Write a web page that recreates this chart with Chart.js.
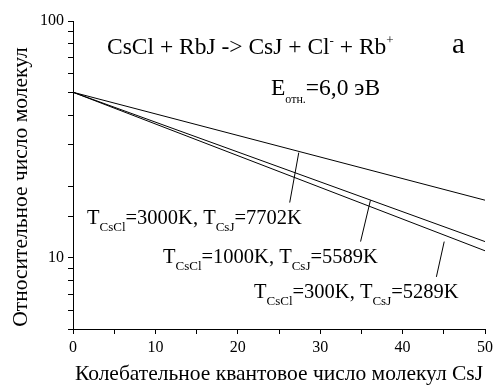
<!DOCTYPE html>
<html>
<head>
<meta charset="utf-8">
<script src="https://cdn.jsdelivr.net/npm/chart.js@4/dist/chart.umd.min.js"></script>
<style>
  html, body { margin: 0; padding: 0; background: #fff; }
  #wrap { width: 497px; height: 387px; position: relative; }
  .probe { position: absolute; left: -1000px; top: 0; font-family: "Liberation Serif", "Times New Roman", Times, serif; }
</style>
</head>
<body>
<div id="wrap"><canvas id="c" width="497" height="387"></canvas></div>
<div class="probe">Относительное CsCl 0123456789</div>
<script>
// Vibrational quantum number of CsJ
const quantumNumbers = [0, 50];
// Relative number of molecules for each CsCl / CsJ temperature pair
const seriesT3000 = [50, 17.5];
const seriesT1000 = [50, 11.7];
const seriesT300  = [50, 10.7];

const xTickLabels = [0, 10, 20, 30, 40, 50];
const yTickLabels = [10, 100];

// Leader lines from the curve labels to their curves (data coordinates)
const leaders = [
  [[27.4, 27.8], [26.3, 17.1]],
  [[36.1, 17.5], [34.9, 11.7]],
  [[45.05, 11.7], [44.1, 8.3]]
];

const SERIF = '"Liberation Serif", "Times New Roman", Times, serif';

function toPoints(ys) {
  return quantumNumbers.map((x, i) => ({ x: x, y: ys[i] }));
}

// Draws a run of text pieces; each piece may be shrunk and shifted (sub/superscript)
function drawRich(ctx, x, y, parts) {
  let cx = x;
  parts.forEach(p => {
    ctx.font = p.size + 'px ' + SERIF;
    ctx.fillText(p.t, cx, y + (p.dy || 0));
    cx += ctx.measureText(p.t).width;
  });
}

const annotations = {
  id: 'annotations',
  afterDatasetsDraw(chart) {
    const ctx = chart.ctx;
    const xs = chart.scales.x, ys = chart.scales.y;
    ctx.save();
    ctx.strokeStyle = '#000';
    ctx.lineWidth = 1;
    leaders.forEach(([a, b]) => {
      ctx.beginPath();
      ctx.moveTo(xs.getPixelForValue(a[0]), ys.getPixelForValue(a[1]));
      ctx.lineTo(xs.getPixelForValue(b[0]), ys.getPixelForValue(b[1]));
      ctx.stroke();
    });

    ctx.fillStyle = '#000';
    ctx.textBaseline = 'alphabetic';
    ctx.textAlign = 'left';

    const M = 23.5, SUP = 13;
    drawRich(ctx, 107, 54, [
      { t: 'CsCl + RbJ -> CsJ + Cl', size: M },
      { t: '-', size: SUP, dy: -9 },
      { t: ' + Rb', size: M },
      { t: '+', size: SUP, dy: -10 }
    ]);
    drawRich(ctx, 452, 53, [{ t: 'a', size: 29 }]);
    drawRich(ctx, 271, 95, [
      { t: 'E', size: M },
      { t: 'отн.', size: 12, dy: 8 },
      { t: '=6,0 эВ', size: M }
    ]);

    const L = 20.5, SUB = 13;
    function tLabel(x, y, a, b) {
      drawRich(ctx, x, y, [
        { t: 'T', size: L },
        { t: 'CsCl', size: SUB, dy: 7 },
        { t: '=' + a + ', T', size: L },
        { t: 'CsJ', size: SUB, dy: 7 },
        { t: '=' + b, size: L }
      ]);
    }
    tLabel(87, 224, '3000K', '7702K');
    tLabel(163, 263, '1000K', '5589K');
    tLabel(254, 298, '300K', '5289K');

    // Y axis title
    ctx.save();
    ctx.translate(21, 187);
    ctx.rotate(-Math.PI / 2);
    ctx.textAlign = 'center';
    ctx.textBaseline = 'middle';
    ctx.font = '21.5px ' + SERIF;
    ctx.fillText('Относительное число молекул', 0, 0);
    ctx.restore();

    ctx.restore();
  }
};

const lineStyle = {
  borderColor: '#000',
  borderWidth: 1,
  pointRadius: 0,
  fill: false,
  tension: 0
};

function build() {
  new Chart(document.getElementById('c'), {
    type: 'line',
    data: {
      datasets: [
        Object.assign({ label: 'T(CsCl)=3000K', data: toPoints(seriesT3000) }, lineStyle),
        Object.assign({ label: 'T(CsCl)=1000K', data: toPoints(seriesT1000) }, lineStyle),
        Object.assign({ label: 'T(CsCl)=300K',  data: toPoints(seriesT300) }, lineStyle)
      ]
    },
    options: {
      responsive: false,
      animation: false,
      devicePixelRatio: 1,
      layout: { padding: { top: 21, right: 10, left: 0, bottom: 0 } },
      plugins: { legend: { display: false }, tooltip: { enabled: false } },
      scales: {
        x: {
          type: 'linear',
          min: 0, max: 50,
          afterFit(s) { s.height = 58; },
          border: { display: true, color: '#000', width: 1 },
          grid: { drawOnChartArea: false, drawTicks: true, tickLength: 5, color: '#000' },
          ticks: {
            stepSize: 5,
            padding: 4,
            color: '#000',
            font: { family: SERIF, size: 16 },
            maxRotation: 0,
            autoSkip: false,
            callback: v => (xTickLabels.includes(v) ? String(v) : '')
          },
          title: {
            display: true,
            text: 'Колебательное квантовое число молекул CsJ',
            color: '#000',
            font: { family: SERIF, size: 21.5 },
            padding: { top: 0, bottom: 0 }
          }
        },
        y: {
          type: 'logarithmic',
          min: 5, max: 100,
          afterFit(s) { s.width = 73; },
          border: { display: true, color: '#000', width: 1 },
          grid: { drawOnChartArea: false, drawTicks: true, tickLength: 5, color: '#000' },
          ticks: {
            padding: 4,
            color: '#000',
            font: { family: SERIF, size: 16 },
            autoSkip: false,
            callback: v => (yTickLabels.includes(v) ? String(v) : '')
          }
        }
      }
    },
    plugins: [annotations]
  });
}

if (document.fonts && document.fonts.load) {
  Promise.all([
    document.fonts.load('20px "Liberation Serif"'),
    document.fonts.load('20px "Liberation Serif"', 'Относительное')
  ]).then(build, build);
} else {
  build();
}
</script>
</body>
</html>
